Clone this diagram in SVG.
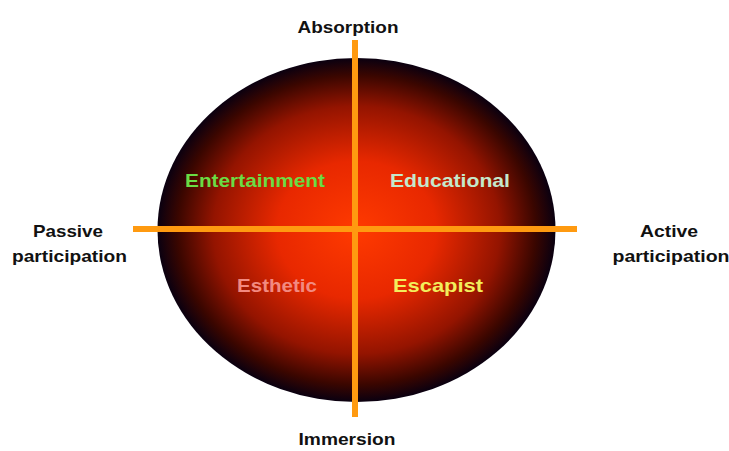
<svg xmlns="http://www.w3.org/2000/svg" width="729" height="451" viewBox="0 0 729 451">
<style>
.axis{font-family:"Liberation Sans",Arial,sans-serif;font-weight:bold;font-size:17px;fill:#111;text-anchor:middle}
.q{font-family:"Liberation Sans",Arial,sans-serif;font-weight:bold;font-size:19px;text-anchor:middle}
.line{stroke:#ff9a10;stroke-width:6;fill:none}
</style>
<defs>
<radialGradient id="g" cx="0.5" cy="0.5" r="0.5">
<stop offset="0" stop-color="#ff3a00"/>
<stop offset="0.4" stop-color="#e82800"/>
<stop offset="0.72" stop-color="#941400"/>
<stop offset="0.9" stop-color="#3a0600"/>
<stop offset="1" stop-color="#0a0010"/>
</radialGradient>
</defs>
<rect width="729" height="451" fill="#fff"/>
<g id="ellipse">
<ellipse cx="356.5" cy="230" rx="199" ry="172" fill="url(#g)"/>
</g>
<g id="connectors">
<line class="line" x1="355" y1="40" x2="355" y2="417"/>
<line class="line" x1="133" y1="229" x2="577" y2="229"/>
</g>
<g id="absorption"><text class="axis" x="348" y="33" textLength="101" lengthAdjust="spacingAndGlyphs">Absorption</text></g>
<g id="immersion"><text class="axis" x="347" y="445" textLength="97" lengthAdjust="spacingAndGlyphs">Immersion</text></g>
<g id="passive">
<text class="axis" x="68" y="237" textLength="70" lengthAdjust="spacingAndGlyphs">Passive</text>
<text class="axis" x="69.5" y="262" textLength="115" lengthAdjust="spacingAndGlyphs">participation</text>
</g>
<g id="active">
<text class="axis" x="669" y="237" textLength="58" lengthAdjust="spacingAndGlyphs">Active</text>
<text class="axis" x="671" y="262" textLength="117" lengthAdjust="spacingAndGlyphs">participation</text>
</g>
<g id="entertainment"><text class="q" x="255" y="187" fill="#6adc44" textLength="140" lengthAdjust="spacingAndGlyphs">Entertainment</text></g>
<g id="educational"><text class="q" x="450" y="187" fill="#c4e8cc" textLength="120" lengthAdjust="spacingAndGlyphs">Educational</text></g>
<g id="esthetic"><text class="q" x="277" y="292" fill="#f28a80" textLength="80" lengthAdjust="spacingAndGlyphs">Esthetic</text></g>
<g id="escapist"><text class="q" x="438" y="292" fill="#f2ee5c" textLength="90" lengthAdjust="spacingAndGlyphs">Escapist</text></g>
</svg>
